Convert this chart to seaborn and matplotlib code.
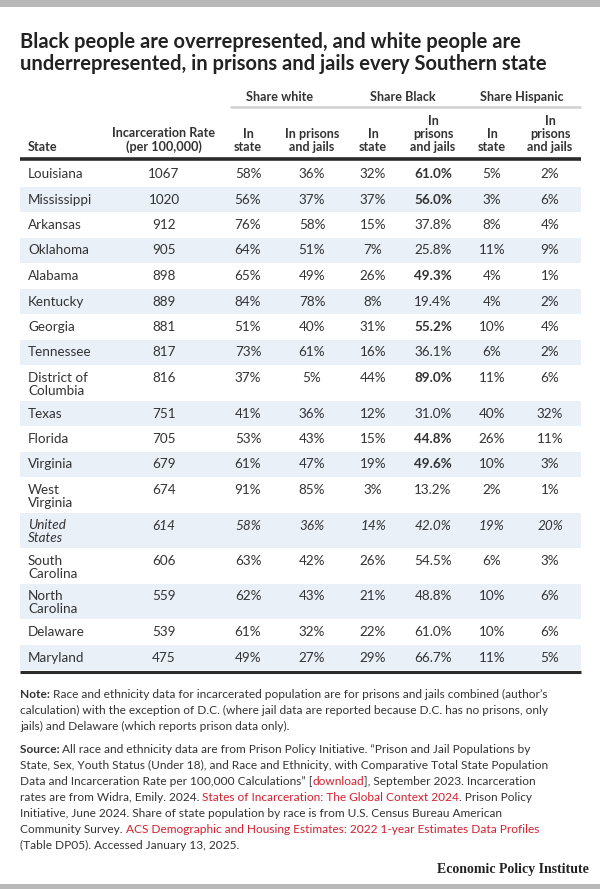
import matplotlib
matplotlib.use("Agg")
import matplotlib.pyplot as plt
import seaborn as sns

# table data
states = ["Louisiana", "Mississippi", "Arkansas", "Oklahoma", "Alabama", "Kentucky",
          "Georgia", "Tennessee", "District of\nColumbia", "Texas", "Florida", "Virginia",
          "West\nVirginia", "United\nStates", "South\nCarolina", "North\nCarolina",
          "Delaware", "Maryland"]
rate = [1067, 1020, 912, 905, 898, 889, 881, 817, 816, 751, 705, 679, 674, 614, 606, 559, 539, 475]
white_state = [58, 56, 76, 64, 65, 84, 51, 73, 37, 41, 53, 61, 91, 58, 63, 62, 61, 49]
white_prison = [36, 37, 58, 51, 49, 78, 40, 61, 5, 36, 43, 47, 85, 36, 42, 43, 32, 27]
black_state = [32, 37, 15, 7, 26, 8, 31, 16, 44, 12, 15, 19, 3, 14, 26, 21, 22, 29]
black_prison = [61.0, 56.0, 37.8, 25.8, 49.3, 19.4, 55.2, 36.1, 89.0, 31.0, 44.8, 49.6,
                13.2, 42.0, 54.5, 48.8, 61.0, 66.7]
hisp_state = [5, 3, 8, 11, 4, 4, 10, 6, 11, 40, 26, 10, 2, 19, 6, 10, 10, 11]
hisp_prison = [2, 6, 4, 9, 1, 2, 4, 2, 6, 32, 11, 3, 1, 20, 3, 6, 6, 5]
bold_black = [True, True, False, False, True, False, True, False, True, False, True, True,
              False, False, False, False, False, False]
italic_row = "United\nStates"

title = "Black people are overrepresented, and white people are\nunderrepresented, in prisons and jails every Southern state"
groups = ["Share white", "Share Black", "Share Hispanic"]
col_heads = ["Incarceration Rate\n(per 100,000)", "In\nstate", "In prisons\nand jails",
             "In\nstate", "In\nprisons\nand jails", "In\nstate", "In\nprisons\nand jails"]

note_lines = [
    [("Note: ", "bold", None), ("Race and ethnicity data for incarcerated population are for prisons and jails combined (author\u2019s", "normal", None)],
    [("calculation) with the exception of D.C. (where jail data are reported because D.C. has no prisons, only", "normal", None)],
    [("jails) and Delaware (which reports prison data only).", "normal", None)],
]
source_lines = [
    [("Source: ", "bold", None), ("All race and ethnicity data are from Prison Policy Initiative. \u201cPrison and Jail Populations by", "normal", None)],
    [("State, Sex, Youth Status (Under 18), and Race and Ethnicity, with Comparative Total State Population", "normal", None)],
    [("Data and Incarceration Rate per 100,000 Calculations\u201d [", "normal", None), ("download", "normal", "red"),
     ("], September 2023. Incarceration", "normal", None)],
    [("rates are from Widra, Emily. 2024. ", "normal", None), ("States of Incarceration: The Global Context 2024", "normal", "red"),
     (". Prison Policy", "normal", None)],
    [("Initiative, June 2024. Share of state population by race is from U.S. Census Bureau American", "normal", None)],
    [("Community Survey. ", "normal", None), ("ACS Demographic and Housing Estimates: 2022 1-year Estimates Data Profiles", "normal", "red")],
    [("(Table DP05). Accessed January 13, 2025.", "normal", None)],
]

sns.set_theme(style="white")
plt.rcParams['font.family'] = ['Lato', 'DejaVu Sans']

TXT = "#333333"
RED = "#d3202f"
BAND = "#e9f0f8"
BODY = 9.7

fig = plt.figure(figsize=(6, 8.89), dpi=100)
ax = fig.add_axes([0, 0, 1, 1])
ax.set_xlim(0, 600)
ax.set_ylim(889, 0)
ax.axis("off")
renderer = fig.canvas.get_renderer()

# frame bars
ax.axhspan(0, 7, color="#b8b8b8", lw=0)
ax.axhspan(884, 889, color="#b8b8b8", lw=0)

ax.text(20, 47.5, title.split("\n")[0], fontsize=14.5, fontweight="bold", color="#222222",
        va="baseline")
ax.text(20, 69.5, title.split("\n")[1], fontsize=14.5, fontweight="bold", color="#222222",
        va="baseline")

# header
col_x = [164, 248, 312, 373, 433, 492, 550]
group_x = [280, 403, 522]
for g, gx in zip(groups, group_x):
    ax.text(gx, 97, g, fontsize=9.1, fontweight="bold", color=TXT, ha="center", va="center")
ax.plot([230, 581], [107, 107], color="#d0d0d0", lw=1.8, solid_capstyle="butt")
ax.text(28, 151, "State", fontsize=9.1, fontweight="bold", color=TXT, ha="left", va="baseline")
for h, cx in zip(col_heads, col_x):
    ax.text(cx, 151, h, fontsize=9.1, fontweight="bold", color=TXT, ha="center",
            va="baseline", linespacing=1.12)

# rows
heights = [35.5 if "\n" in s else 25.5 for s in states]
tops = []
y = 161
for h in heights:
    tops.append(y)
    y += h
centers = [t + h / 2 for t, h in zip(tops, heights)]
shade = [i % 2 == 1 for i in range(len(states))]
ax.barh([c for c, s in zip(centers, shade) if s], 561, left=20,
        height=[h for h, s in zip(heights, shade) if s], color=BAND, lw=0)
ax.plot([20, 581], [158.5, 158.5], color="#2b2b2b", lw=2.6, solid_capstyle="butt")
ax.plot([20, 581], [672, 672], color="#2b2b2b", lw=2.2, solid_capstyle="butt")

for i, s in enumerate(states):
    top = tops[i]
    style = "italic" if s == italic_row else "normal"
    if "\n" in s:
        first, second = s.split("\n")
        ax.text(28, top + 16.8, first, fontsize=BODY, color=TXT, style=style, va="baseline")
        ax.text(28, top + 29.8, second, fontsize=BODY, color=TXT, style=style, va="baseline")
    else:
        ax.text(28, top + 13, s, fontsize=BODY, color=TXT, style=style, va="center")
    vals = [str(rate[i]), f"{white_state[i]}%", f"{white_prison[i]}%", f"{black_state[i]}%",
            f"{black_prison[i]:.1f}%", f"{hisp_state[i]}%", f"{hisp_prison[i]}%"]
    for j, (v, cx) in enumerate(zip(vals, col_x)):
        wt = "bold" if (j == 4 and bold_black[i]) else "normal"
        ax.text(cx, top + 13, v, fontsize=BODY, color=TXT, style=style, fontweight=wt,
                ha="center", va="center")


def advance(txt, size, wt):
    # width of txt including trailing spaces, measured against a marker glyph
    a = ax.text(0, 0, txt + "x", fontsize=size, fontweight=wt)
    b = ax.text(0, 0, "x", fontsize=size, fontweight=wt)
    w = a.get_window_extent(renderer).width - b.get_window_extent(renderer).width
    a.remove()
    b.remove()
    return w


def rich_line(x, yb, parts, size):
    for txt, wt, col in parts:
        c = RED if col == "red" else TXT
        ax.text(x, yb, txt, fontsize=size, fontweight=wt, color=c, va="baseline")
        x += advance(txt, size, wt)


for k, parts in enumerate(note_lines):
    rich_line(20, 698.5 + 16 * k, parts, 8.6)
for k, parts in enumerate(source_lines):
    rich_line(20, 753 + 16 * k, parts, 8.6)

ax.text(589, 873, "Economic Policy Institute", fontsize=10.0, fontweight="bold",
        family=["Liberation Serif", "DejaVu Serif"], color="#222222", ha="right", va="baseline")

fig.savefig("out.png", dpi=100)
